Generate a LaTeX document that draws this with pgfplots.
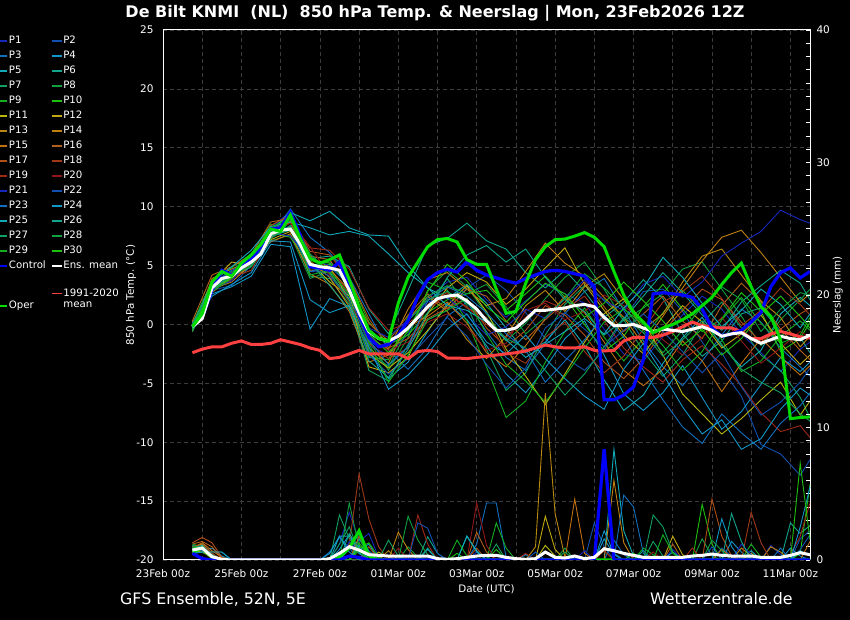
\documentclass[border=0pt]{standalone}
\usepackage{fontspec}
\setmainfont{DejaVu Sans}
\usepackage{pgfplots}
\pgfplotsset{compat=1.18}
\definecolor{cp1}{RGB}{20,40,190}
\definecolor{cp2}{RGB}{16,80,176}
\definecolor{cp3}{RGB}{16,112,192}
\definecolor{cp4}{RGB}{16,150,200}
\definecolor{cp5}{RGB}{16,170,185}
\definecolor{cp6}{RGB}{16,165,140}
\definecolor{cp7}{RGB}{16,160,96}
\definecolor{cp8}{RGB}{16,160,64}
\definecolor{cp9}{RGB}{16,176,32}
\definecolor{cp10}{RGB}{32,192,16}
\definecolor{cp11}{RGB}{184,184,16}
\definecolor{cp12}{RGB}{192,168,16}
\definecolor{cp13}{RGB}{184,136,16}
\definecolor{cp14}{RGB}{192,128,16}
\definecolor{cp15}{RGB}{192,112,16}
\definecolor{cp16}{RGB}{176,96,24}
\definecolor{cp17}{RGB}{176,80,24}
\definecolor{cp18}{RGB}{160,56,24}
\definecolor{cp19}{RGB}{160,40,24}
\definecolor{cp20}{RGB}{144,24,24}
\colorlet{cp21}{cp1}\colorlet{cp22}{cp2}\colorlet{cp23}{cp3}\colorlet{cp24}{cp4}\colorlet{cp25}{cp5}
\colorlet{cp26}{cp6}\colorlet{cp27}{cp7}\colorlet{cp28}{cp8}\colorlet{cp29}{cp9}\colorlet{cp30}{cp10}
\definecolor{ctrl}{RGB}{0,0,255}
\definecolor{oper}{RGB}{0,220,0}
\definecolor{clim}{RGB}{255,64,64}
\definecolor{gridc}{RGB}{60,60,60}
\newcommand{\tickfont}{\fontsize{10.5}{12}\selectfont}
\newcommand{\legfont}{\fontsize{10.2}{11.5}\selectfont}
\newcommand{\labfont}{\fontsize{10.3}{12}\selectfont}
\pgfplotsset{mem/.style={line width=0.9pt,forget plot}, lg/.style={line width=1.5pt}}
\begin{document}
\begin{tikzpicture}
\path[use as bounding box, fill=black] (0,0) rectangle (850pt,620pt);
\begin{axis}[
  at={(163pt,60pt)}, anchor=south west, scale only axis,
  width=647pt, height=530pt,
  xmin=0, xmax=16.5, ymin=-20, ymax=25,
  xtick={0,...,16},
  xticklabels={23Feb 00z,,25Feb 00z,,27Feb 00z,,01Mar 00z,,03Mar 00z,,05Mar 00z,,07Mar 00z,,09Mar 00z,,11Mar 00z},
  ytick={-20,-15,...,25},
  major tick length=0pt,
  grid=major,
  grid style={gridc, line width=0.7pt, dash pattern=on 3.5pt off 3.5pt},
  axis line style={white, line width=1pt},
  /pgf/number format/assume math mode=true,
  tick label style={font=\tickfont, text=white},
  xticklabel style={yshift=-6pt},
  yticklabel style={xshift=-6pt},
  xlabel={Date (UTC)}, ylabel={850 hPa Temp. (°C)},
  xlabel style={font=\labfont, text=white, at={(axis description cs:0.5,-0.0547)}, anchor=center},
  ylabel style={font=\labfont, text=white, at={(axis description cs:-0.0495,0.5)}, anchor=center},
  legend image code/.code={\draw[#1] (0pt,0pt) -- (10pt,0pt);},
  legend style={at={(axis description cs:-0.2574,0.9906)}, anchor=north west,
    draw=none, fill=none, inner sep=0pt, outer sep=0pt, text=white, font=\legfont,
    row sep=3pt, nodes={inner xsep=1pt, inner ysep=0pt, text height=9pt, text depth=3pt},
    /tikz/every even column/.append style={column sep=4pt}},
  legend columns=2, legend cell align=left,
]
\addlegendimage{cp1,lg}\addlegendentry{P1}
\addlegendimage{cp2,lg}\addlegendentry{P2}
\addlegendimage{cp3,lg}\addlegendentry{P3}
\addlegendimage{cp4,lg}\addlegendentry{P4}
\addlegendimage{cp5,lg}\addlegendentry{P5}
\addlegendimage{cp6,lg}\addlegendentry{P6}
\addlegendimage{cp7,lg}\addlegendentry{P7}
\addlegendimage{cp8,lg}\addlegendentry{P8}
\addlegendimage{cp9,lg}\addlegendentry{P9}
\addlegendimage{cp10,lg}\addlegendentry{P10}
\addlegendimage{cp11,lg}\addlegendentry{P11}
\addlegendimage{cp12,lg}\addlegendentry{P12}
\addlegendimage{cp13,lg}\addlegendentry{P13}
\addlegendimage{cp14,lg}\addlegendentry{P14}
\addlegendimage{cp15,lg}\addlegendentry{P15}
\addlegendimage{cp16,lg}\addlegendentry{P16}
\addlegendimage{cp17,lg}\addlegendentry{P17}
\addlegendimage{cp18,lg}\addlegendentry{P18}
\addlegendimage{cp19,lg}\addlegendentry{P19}
\addlegendimage{cp20,lg}\addlegendentry{P20}
\addlegendimage{cp21,lg}\addlegendentry{P21}
\addlegendimage{cp22,lg}\addlegendentry{P22}
\addlegendimage{cp23,lg}\addlegendentry{P23}
\addlegendimage{cp24,lg}\addlegendentry{P24}
\addlegendimage{cp25,lg}\addlegendentry{P25}
\addlegendimage{cp26,lg}\addlegendentry{P26}
\addlegendimage{cp27,lg}\addlegendentry{P27}
\addlegendimage{cp28,lg}\addlegendentry{P28}
\addlegendimage{cp29,lg}\addlegendentry{P29}
\addlegendimage{cp30,lg}\addlegendentry{P30}
\addlegendimage{ctrl,lg}\addlegendentry{Control}
\addlegendimage{white,lg}\addlegendentry{Ens. mean}
\addlegendimage{legend image code/.code={\draw[oper,line width=1.5pt] (0pt,-25pt) -- (10pt,-25pt);}}\addlegendentry{\raisebox{-25pt}{Oper}}
\addlegendimage{legend image code/.code={\draw[clim,line width=1.5pt] (0pt,-12.5pt) -- (10pt,-12.5pt);}}\addlegendentry{\raisebox{-12.5pt}{\parbox[t]{60pt}{1991-2020\\mean}}}

\addplot[cp1,mem] coordinates {(0.75,-0.5)(1.25,3.5)(1.75,4.6)(2.25,5.8)(2.75,8.2)(3.25,9.6)(3.75,5.9)(4.25,4.2)(4.75,2.4)(5.25,-1.8)(5.75,-2.6)(6.25,-0.8)(6.75,2.2)(7.25,3.6)(7.75,4.0)(8.25,2.1)(8.75,0.6)(9.25,2.0)(9.75,3.4)(10.25,2.6)(10.75,1.8)(11.25,-0.4)(11.75,-2.5)(12.25,-3.1)(12.75,-1.0)(13.25,0.8)(13.75,2.4)(14.25,1.3)(14.75,-0.8)(15.25,-2.4)(15.75,-4.0)(16.25,-2.1)(16.5,-1.5)};
\addplot[cp2,mem] coordinates {(0.75,-0.3)(1.25,2.9)(1.75,3.3)(2.25,5.0)(2.75,7.9)(3.25,8.3)(3.75,4.5)(4.25,4.4)(4.75,2.1)(5.25,-2.7)(5.75,-3.5)(6.25,-1.9)(6.75,0.4)(7.25,1.2)(7.75,3.1)(8.25,4.2)(8.75,2.9)(9.25,1.0)(9.75,-1.2)(10.25,-2.8)(10.75,-3.9)(11.25,-2.2)(11.75,0.5)(12.25,2.8)(12.75,3.0)(13.25,1.1)(13.75,-1.5)(14.25,-3.8)(14.75,-6.1)(15.25,-10.2)(15.75,-11.0)(16.25,-12.8)(16.5,-11.5)};
\addplot[cp3,mem] coordinates {(0.75,-0.1)(1.25,3.0)(1.75,4.4)(2.25,5.5)(2.75,7.5)(3.25,9.8)(3.75,7.4)(4.25,6.1)(4.75,4.0)(5.25,0.9)(5.75,-2.2)(6.25,-3.8)(6.75,-2.0)(7.25,0.7)(7.75,1.9)(8.25,-0.6)(8.75,-2.8)(9.25,-3.9)(9.75,-1.6)(10.25,0.9)(10.75,2.8)(11.25,3.9)(11.75,1.2)(12.25,-1.4)(12.75,-3.6)(13.25,-5.2)(13.75,-3.1)(14.25,-0.9)(14.75,1.3)(15.25,0.2)(15.75,-2.0)(16.25,-3.6)(16.5,-4.4)};
\addplot[cp4,mem] coordinates {(0.75,-0.6)(1.25,2.6)(1.75,3.2)(2.25,4.1)(2.75,6.8)(3.25,6.6)(3.75,-0.4)(4.25,2.2)(4.75,1.5)(5.25,-2.3)(5.75,-4.6)(6.25,-3.2)(6.75,-0.6)(7.25,1.8)(7.75,0.4)(8.25,-1.8)(8.75,-4.2)(9.25,-5.8)(9.75,-3.7)(10.25,-1.2)(10.75,0.3)(11.25,-2.6)(11.75,-5.9)(12.25,-7.3)(12.75,-5.8)(13.25,-3.5)(13.75,-6.2)(14.25,-8.9)(14.75,-7.4)(15.25,-5.1)(15.75,-2.8)(16.25,-4.0)(16.5,-3.2)};
\addplot[cp5,mem] coordinates {(0.75,0.0)(1.25,3.4)(1.75,4.3)(2.25,5.9)(2.75,8.0)(3.25,9.5)(3.75,8.8)(4.25,9.6)(4.75,8.2)(5.25,7.6)(5.75,7.5)(6.25,5.0)(6.75,3.1)(7.25,2.2)(7.75,3.4)(8.25,1.8)(8.75,-0.3)(9.25,-2.4)(9.75,-1.5)(10.25,0.4)(10.75,-1.8)(11.25,-4.7)(11.75,-7.3)(12.25,-6.0)(12.75,-3.3)(13.25,-1.1)(13.75,0.6)(14.25,-1.8)(14.75,-3.6)(15.25,-2.2)(15.75,0.9)(16.25,2.3)(16.5,1.6)};
\addplot[cp6,mem] coordinates {(0.75,-0.4)(1.25,3.0)(1.75,3.9)(2.25,4.9)(2.75,7.4)(3.25,8.7)(3.75,5.6)(4.25,5.8)(4.75,4.9)(5.25,1.3)(5.75,-0.8)(6.25,2.9)(6.75,6.7)(7.25,7.3)(7.75,8.6)(8.25,7.1)(8.75,6.4)(9.25,4.4)(9.75,3.1)(10.25,4.6)(10.75,2.8)(11.25,0.6)(11.75,1.9)(12.25,3.8)(12.75,2.2)(13.25,-0.8)(13.75,-2.7)(14.25,-1.4)(14.75,0.9)(15.25,1.4)(15.75,-0.6)(16.25,-1.1)(16.5,-2.4)};
\addplot[cp7,mem] coordinates {(0.75,-0.2)(1.25,3.3)(1.75,4.0)(2.25,5.2)(2.75,7.9)(3.25,8.0)(3.75,4.1)(4.25,3.9)(4.75,1.7)(5.25,-3.9)(5.75,-4.8)(6.25,-1.7)(6.75,1.6)(7.25,3.9)(7.75,1.6)(8.25,-2.1)(8.75,-5.6)(9.25,-4.1)(9.75,-0.9)(10.25,1.7)(10.75,3.3)(11.25,2.1)(11.75,0.4)(12.25,-2.3)(12.75,-4.4)(13.25,-2.6)(13.75,0.1)(14.25,1.9)(14.75,-0.3)(15.25,-2.6)(15.75,-3.9)(16.25,-6.2)(16.5,-7.9)};
\addplot[cp8,mem] coordinates {(0.75,-0.5)(1.25,2.8)(1.75,4.2)(2.25,5.6)(2.75,7.1)(3.25,7.6)(3.75,3.9)(4.25,4.5)(4.75,2.6)(5.25,-1.4)(5.75,-3.9)(6.25,-1.1)(6.75,2.9)(7.25,4.6)(7.75,3.2)(8.25,0.9)(8.75,-1.4)(9.25,0.1)(9.75,2.2)(10.25,4.0)(10.75,5.3)(11.25,3.0)(11.75,0.3)(12.25,1.4)(12.75,2.6)(13.25,4.7)(13.75,5.3)(14.25,3.0)(14.75,0.7)(15.25,-1.8)(15.75,0.4)(16.25,2.1)(16.5,3.0)};
\addplot[cp9,mem] coordinates {(0.75,0.1)(1.25,3.7)(1.75,4.8)(2.25,6.0)(2.75,8.5)(3.25,8.0)(3.75,5.0)(4.25,4.3)(4.75,2.0)(5.25,-2.8)(5.75,-3.0)(6.25,0.7)(6.75,3.6)(7.25,2.9)(7.75,0.3)(8.25,-3.6)(8.75,-7.9)(9.25,-6.5)(9.75,-3.2)(10.25,-0.6)(10.75,1.4)(11.25,-1.1)(11.75,-3.1)(12.25,-1.2)(12.75,1.0)(13.25,2.9)(13.75,1.1)(14.25,-1.3)(14.75,-4.0)(15.25,-3.1)(15.75,-1.0)(16.25,0.3)(16.5,-0.5)};
\addplot[cp10,mem] coordinates {(0.75,-0.3)(1.25,3.1)(1.75,4.5)(2.25,5.3)(2.75,7.8)(3.25,7.4)(3.75,4.8)(4.25,5.1)(4.75,3.9)(5.25,0.2)(5.75,-1.7)(6.25,-0.9)(6.75,1.0)(7.25,2.1)(7.75,2.6)(8.25,2.9)(8.75,1.2)(9.25,2.6)(9.75,4.1)(10.25,2.3)(10.75,0.0)(11.25,-2.3)(11.75,-1.0)(12.25,1.5)(12.75,3.4)(13.25,1.3)(13.75,-0.6)(14.25,0.5)(14.75,2.7)(15.25,1.1)(15.75,-2.3)(16.25,-1.2)(16.5,0.2)};
\addplot[cp11,mem] coordinates {(0.75,-0.1)(1.25,3.2)(1.75,3.9)(2.25,5.0)(2.75,7.6)(3.25,8.3)(3.75,5.3)(4.25,3.6)(4.75,2.4)(5.25,-2.5)(5.75,-3.7)(6.25,-2.4)(6.75,-0.5)(7.25,1.6)(7.75,3.3)(8.25,1.1)(8.75,-2.1)(9.25,-4.4)(9.75,-6.8)(10.25,-4.2)(10.75,-1.5)(11.25,0.9)(11.75,2.2)(12.25,0.2)(12.75,-2.6)(13.25,-5.9)(13.75,-7.6)(14.25,-9.3)(14.75,-8.0)(15.25,-6.4)(15.75,-4.9)(16.25,-7.7)(16.5,-6.5)};
\addplot[cp12,mem] coordinates {(0.75,-0.4)(1.25,3.6)(1.75,5.3)(2.25,5.0)(2.75,7.2)(3.25,7.9)(3.75,5.7)(4.25,4.9)(4.75,2.1)(5.25,-3.6)(5.75,-4.1)(6.25,-2.8)(6.75,0.9)(7.25,3.1)(7.75,4.4)(8.25,3.6)(8.75,1.7)(9.25,3.0)(9.75,4.8)(10.25,6.5)(10.75,3.4)(11.25,1.2)(11.75,-0.9)(12.25,-2.5)(12.75,-0.3)(13.25,1.6)(13.75,0.2)(14.25,-2.0)(14.75,-0.8)(15.25,0.8)(15.75,-1.6)(16.25,-3.4)(16.5,-2.6)};
\addplot[cp13,mem] coordinates {(0.75,0.2)(1.25,2.7)(1.75,4.1)(2.25,5.7)(2.75,8.1)(3.25,8.6)(3.75,5.4)(4.25,4.0)(4.75,1.5)(5.25,-2.0)(5.75,-3.3)(6.25,0.4)(6.75,2.4)(7.25,1.1)(7.75,-1.3)(8.25,-2.9)(8.75,-1.0)(9.25,1.6)(9.75,2.9)(10.25,1.1)(10.75,3.2)(11.25,4.3)(11.75,2.1)(12.25,-0.4)(12.75,0.9)(13.25,3.6)(13.75,5.8)(14.25,6.4)(14.75,4.2)(15.25,2.0)(15.75,0.6)(16.25,-1.9)(16.5,-1.0)};
\addplot[cp14,mem] coordinates {(0.75,-0.2)(1.25,3.0)(1.75,3.6)(2.25,5.1)(2.75,7.3)(3.25,8.8)(3.75,4.6)(4.25,4.7)(4.75,2.9)(5.25,-1.1)(5.75,-2.1)(6.25,1.3)(6.75,3.8)(7.25,4.4)(7.75,3.0)(8.25,1.6)(8.75,2.2)(9.25,4.5)(9.75,6.9)(10.25,5.2)(10.75,4.1)(11.25,2.3)(11.75,0.6)(12.25,-1.7)(12.75,0.7)(13.25,3.1)(13.75,5.4)(14.25,7.4)(14.75,8.0)(15.25,6.1)(15.75,4.0)(16.25,1.9)(16.5,2.6)};
\addplot[cp15,mem] coordinates {(0.75,-0.6)(1.25,3.9)(1.75,4.7)(2.25,5.4)(2.75,7.0)(3.25,7.7)(3.75,4.3)(4.25,3.4)(4.75,1.1)(5.25,-3.2)(5.75,-2.6)(6.25,-0.2)(6.75,0.7)(7.25,1.9)(7.75,0.1)(8.25,-2.4)(8.75,-3.6)(9.25,-1.8)(9.75,0.5)(10.25,2.4)(10.75,1.0)(11.25,-1.5)(11.75,-3.9)(12.25,-5.2)(12.75,-3.8)(13.25,-1.4)(13.75,-3.1)(14.25,-5.7)(14.75,-3.3)(15.25,-1.2)(15.75,-2.8)(16.25,-4.3)(16.5,-3.5)};
\addplot[cp16,mem] coordinates {(0.75,0.3)(1.25,4.2)(1.75,4.9)(2.25,5.9)(2.75,8.7)(3.25,9.0)(3.75,5.8)(4.25,5.5)(4.75,3.0)(5.25,0.1)(5.75,-1.4)(6.25,0.8)(6.75,2.6)(7.25,1.3)(7.75,3.0)(8.25,2.4)(8.75,0.3)(9.25,-1.3)(9.75,0.4)(10.25,1.9)(10.75,3.6)(11.25,1.5)(11.75,-0.6)(12.25,0.9)(12.75,2.4)(13.25,0.3)(13.75,-1.2)(14.25,1.6)(14.75,3.5)(15.25,1.9)(15.75,-0.4)(16.25,-2.2)(16.5,-3.0)};
\addplot[cp17,mem] coordinates {(0.75,-0.1)(1.25,3.4)(1.75,4.4)(2.25,5.6)(2.75,8.4)(3.25,9.3)(3.75,6.2)(4.25,5.9)(4.75,3.9)(5.25,0.5)(5.75,-2.0)(6.25,-1.2)(6.75,0.5)(7.25,1.4)(7.75,2.2)(8.25,-0.3)(8.75,-1.9)(9.25,-0.5)(9.75,1.6)(10.25,0.8)(10.75,-0.9)(11.25,-3.2)(11.75,-4.6)(12.25,-2.9)(12.75,-0.6)(13.25,1.2)(13.75,3.0)(14.25,2.1)(14.75,0.2)(15.25,-1.5)(15.75,-0.4)(16.25,0.9)(16.5,1.4)};
\addplot[cp18,mem] coordinates {(0.75,-0.3)(1.25,3.1)(1.75,4.0)(2.25,4.6)(2.75,7.5)(3.25,8.2)(3.75,5.2)(4.25,4.6)(4.75,2.7)(5.25,-1.6)(5.75,-2.9)(6.25,-2.0)(6.75,1.7)(7.25,2.7)(7.75,1.4)(8.25,0.6)(8.75,-2.4)(9.25,-3.3)(9.75,-1.1)(10.25,0.2)(10.75,-2.3)(11.25,-4.1)(11.75,-2.7)(12.25,-0.4)(12.75,1.9)(13.25,2.8)(13.75,4.1)(14.25,2.2)(14.75,-0.1)(15.25,1.2)(15.75,3.1)(16.25,1.7)(16.5,0.8)};
\addplot[cp19,mem] coordinates {(0.75,0.0)(1.25,2.9)(1.75,3.8)(2.25,5.2)(2.75,7.9)(3.25,8.9)(3.75,6.5)(4.25,6.3)(4.75,4.7)(5.25,1.4)(5.75,-0.5)(6.25,0.1)(6.75,1.3)(7.25,2.5)(7.75,1.5)(8.25,0.0)(8.75,-1.1)(9.25,0.6)(9.75,2.0)(10.25,1.3)(10.75,2.4)(11.25,0.3)(11.75,-2.0)(12.25,-3.6)(12.75,-4.9)(13.25,-3.0)(13.75,-1.8)(14.25,-3.4)(14.75,-5.2)(15.25,-7.5)(15.75,-9.1)(16.25,-8.6)(16.5,-9.6)};
\addplot[cp20,mem] coordinates {(0.75,-0.2)(1.25,3.3)(1.75,4.3)(2.25,5.4)(2.75,8.0)(3.25,8.6)(3.75,6.6)(4.25,4.2)(4.75,1.9)(5.25,-1.0)(5.75,-2.2)(6.25,-1.5)(6.75,0.2)(7.25,0.9)(7.75,-0.2)(8.25,-2.2)(8.75,-1.6)(9.25,1.2)(9.75,1.8)(10.25,0.4)(10.75,1.1)(11.25,2.5)(11.75,1.6)(12.25,0.2)(12.75,-1.3)(13.25,-2.6)(13.75,-1.1)(14.25,0.6)(14.75,-1.4)(15.25,-3.3)(15.75,-2.0)(16.25,-0.6)(16.5,-1.1)};
\addplot[cp21,mem] coordinates {(0.75,-0.2)(1.25,3.0)(1.75,3.7)(2.25,5.6)(2.75,7.8)(3.25,7.5)(3.75,5.5)(4.25,5.0)(4.75,3.6)(5.25,-0.3)(5.75,-1.1)(6.25,0.4)(6.75,1.9)(7.25,2.3)(7.75,0.8)(8.25,-0.9)(8.75,-0.2)(9.25,1.3)(9.75,0.5)(10.25,2.2)(10.75,3.8)(11.25,2.0)(11.75,1.2)(12.25,3.4)(12.75,4.1)(13.25,2.3)(13.75,3.6)(14.25,5.8)(14.75,6.9)(15.25,7.9)(15.75,9.7)(16.25,8.9)(16.5,8.6)};
\addplot[cp22,mem] coordinates {(0.75,-0.4)(1.25,3.3)(1.75,4.6)(2.25,5.1)(2.75,7.6)(3.25,8.4)(3.75,4.9)(4.25,4.1)(4.75,2.2)(5.25,-2.6)(5.75,-4.2)(6.25,-2.9)(6.75,-1.1)(7.25,0.6)(7.75,-1.0)(8.25,-3.4)(8.75,-5.4)(9.25,-3.7)(9.75,-0.3)(10.25,1.0)(10.75,-0.4)(11.25,-1.9)(11.75,-0.5)(12.25,0.9)(12.75,-0.6)(13.25,-2.3)(13.75,-4.1)(14.25,-2.4)(14.75,-5.3)(15.25,-7.7)(15.75,-6.6)(16.25,-4.9)(16.5,-3.7)};
\addplot[cp23,mem] coordinates {(0.75,0.1)(1.25,3.0)(1.75,4.2)(2.25,5.5)(2.75,7.7)(3.25,8.2)(3.75,4.5)(4.25,4.9)(4.75,3.4)(5.25,-1.3)(5.75,-3.4)(6.25,-1.9)(6.75,2.0)(7.25,3.2)(7.75,2.4)(8.25,1.0)(8.75,-0.8)(9.25,-2.2)(9.75,-4.9)(10.25,-3.1)(10.75,-1.3)(11.25,0.8)(11.75,-1.1)(12.25,-3.9)(12.75,-6.4)(13.25,-8.7)(13.75,-10.1)(14.25,-7.6)(14.75,-9.2)(15.25,-10.6)(15.75,-8.4)(16.25,-6.9)(16.5,-5.8)};
\addplot[cp24,mem] coordinates {(0.75,-0.3)(1.25,2.4)(1.75,3.4)(2.25,4.4)(2.75,7.1)(3.25,7.0)(3.75,2.1)(4.25,1.0)(4.75,1.6)(5.25,-1.9)(5.75,-5.5)(6.25,-4.3)(6.75,-2.5)(7.25,-0.4)(7.75,0.9)(8.25,-1.5)(8.75,-2.5)(9.25,-0.9)(9.75,-2.9)(10.25,-4.6)(10.75,-6.1)(11.25,-7.2)(11.75,-3.8)(12.25,-1.6)(12.75,-4.2)(13.25,-7.0)(13.75,-9.3)(14.25,-8.1)(14.75,-10.6)(15.25,-9.7)(15.75,-7.2)(16.25,-5.4)(16.5,-6.0)};
\addplot[cp25,mem] coordinates {(0.75,-0.2)(1.25,3.6)(1.75,4.9)(2.25,6.3)(2.75,8.3)(3.25,8.7)(3.75,8.2)(4.25,7.6)(4.75,7.9)(5.25,7.5)(5.75,6.0)(6.25,4.4)(6.75,3.1)(7.25,1.6)(7.75,1.2)(8.25,0.2)(8.75,-1.3)(9.25,-2.8)(9.75,-1.7)(10.25,-0.6)(10.75,0.5)(11.25,-0.8)(11.75,1.4)(12.25,3.1)(12.75,5.7)(13.25,4.0)(13.75,1.8)(14.25,-0.2)(14.75,1.2)(15.25,3.0)(15.75,1.7)(16.25,-0.3)(16.5,0.9)};
\addplot[cp26,mem] coordinates {(0.75,-0.5)(1.25,2.9)(1.75,4.1)(2.25,5.2)(2.75,7.5)(3.25,8.0)(3.75,5.3)(4.25,3.3)(4.75,1.3)(5.25,-3.1)(5.75,-4.5)(6.25,-2.1)(6.75,1.0)(7.25,4.0)(7.75,5.9)(8.25,6.7)(8.75,5.3)(9.25,6.4)(9.75,4.0)(10.25,2.1)(10.75,1.1)(11.25,-0.9)(11.75,0.4)(12.25,2.4)(12.75,4.4)(13.25,2.7)(13.75,0.8)(14.25,-0.5)(14.75,1.9)(15.25,3.3)(15.75,4.6)(16.25,3.5)(16.5,2.1)};
\addplot[cp27,mem] coordinates {(0.75,0.0)(1.25,3.2)(1.75,4.3)(2.25,4.9)(2.75,7.3)(3.25,8.4)(3.75,5.0)(4.25,5.3)(4.75,3.7)(5.25,-0.4)(5.75,-1.8)(6.25,0.3)(6.75,2.1)(7.25,2.8)(7.75,1.8)(8.25,0.5)(8.75,-1.2)(9.25,-2.0)(9.75,-3.9)(10.25,-6.0)(10.75,-4.2)(11.25,-1.9)(11.75,0.6)(12.25,-0.7)(12.75,-2.7)(13.25,-1.3)(13.75,0.3)(14.25,-1.7)(14.75,-3.8)(15.25,-4.9)(15.75,-5.8)(16.25,-7.6)(16.5,-8.2)};
\addplot[cp28,mem] coordinates {(0.75,-0.6)(1.25,3.3)(1.75,4.1)(2.25,5.0)(2.75,7.9)(3.25,8.9)(3.75,6.0)(4.25,4.4)(4.75,2.0)(5.25,-2.2)(5.75,-3.6)(6.25,-0.4)(6.75,2.4)(7.25,3.3)(7.75,2.6)(8.25,3.4)(8.75,1.5)(9.25,-0.8)(9.75,0.6)(10.25,2.2)(10.75,4.3)(11.25,3.1)(11.75,1.4)(12.25,-0.5)(12.75,-2.4)(13.25,-0.5)(13.75,1.5)(14.25,3.2)(14.75,2.1)(15.25,-0.6)(15.75,1.3)(16.25,2.7)(16.5,2.5)};
\addplot[cp29,mem] coordinates {(0.75,-0.1)(1.25,2.8)(1.75,3.9)(2.25,5.8)(2.75,8.2)(3.25,9.1)(3.75,4.2)(4.25,4.6)(4.75,2.5)(5.25,-1.6)(5.75,-4.9)(6.25,-2.6)(6.75,0.4)(7.25,1.2)(7.75,2.2)(8.25,-0.8)(8.75,-3.4)(9.25,-4.8)(9.75,-6.6)(10.25,-4.4)(10.75,-2.0)(11.25,0.2)(11.75,1.3)(12.25,0.0)(12.75,-1.8)(13.25,-3.9)(13.75,-2.3)(14.25,0.4)(14.75,2.3)(15.25,0.1)(15.75,-1.6)(16.25,-0.9)(16.5,0.6)};
\addplot[cp30,mem] coordinates {(0.75,-0.4)(1.25,3.0)(1.75,4.0)(2.25,5.4)(2.75,7.6)(3.25,8.1)(3.75,5.5)(4.25,5.2)(4.75,3.4)(5.25,-0.8)(5.75,-2.4)(6.25,-0.6)(6.75,2.8)(7.25,5.1)(7.75,3.7)(8.25,1.5)(8.75,0.2)(9.25,1.9)(9.75,3.5)(10.25,2.6)(10.75,0.6)(11.25,1.8)(11.75,3.6)(12.25,2.0)(12.75,0.3)(13.25,-1.8)(13.75,-0.4)(14.25,-2.6)(14.75,-1.2)(15.25,0.9)(15.75,2.4)(16.25,0.7)(16.5,-0.3)};

\addplot[clim, line width=3pt, forget plot] coordinates {(0.75,-2.4)(1.0,-2.1)(1.25,-1.9)(1.5,-1.9)(1.75,-1.6)(2.0,-1.4)(2.25,-1.7)(2.5,-1.7)(2.75,-1.6)(3.0,-1.3)(3.25,-1.5)(3.5,-1.7)(3.75,-2.0)(4.0,-2.2)(4.25,-2.9)(4.5,-2.8)(4.75,-2.5)(5.0,-2.2)(5.25,-2.5)(5.5,-2.5)(5.75,-2.5)(6.0,-2.5)(6.25,-2.9)(6.5,-2.3)(6.75,-2.2)(7.0,-2.3)(7.25,-2.85)(7.5,-2.85)(7.75,-2.9)(8.0,-2.8)(8.25,-2.7)(8.5,-2.6)(8.75,-2.5)(9.0,-2.4)(9.25,-2.25)(9.5,-2.0)(9.75,-1.75)(10.0,-1.9)(10.25,-2.0)(10.5,-2.0)(10.75,-1.9)(11.0,-2.2)(11.25,-2.25)(11.5,-2.2)(11.75,-1.4)(12.0,-1.1)(12.25,-1.1)(12.5,-1.1)(12.75,-0.9)(13.0,-0.6)(13.25,-0.2)(13.5,0.2)(13.75,-0.1)(14.0,-0.2)(14.25,-0.3)(14.5,-0.3)(14.75,-0.6)(15.0,-1.2)(15.25,-1.2)(15.5,-0.8)(15.75,-0.6)(16.0,-0.8)(16.25,-1.05)(16.5,-1.15)};
\addplot[ctrl, line width=3.2pt, forget plot] coordinates {(0.75,-0.2)(1.0,0.6)(1.25,2.9)(1.5,4.6)(1.75,4.2)(2.0,5.1)(2.25,5.5)(2.5,6.6)(2.75,8.1)(3.0,8.2)(3.25,9.5)(3.5,7.6)(3.75,4.9)(4.0,4.8)(4.25,4.6)(4.5,5.3)(4.75,3.2)(5.0,0.8)(5.25,-1.1)(5.5,-1.9)(5.75,-1.7)(6.0,-0.9)(6.25,0.3)(6.5,2.4)(6.75,3.8)(7.0,4.4)(7.25,4.7)(7.5,4.45)(7.75,5.3)(8.0,4.6)(8.25,4.2)(8.5,3.95)(8.75,3.7)(9.0,3.5)(9.25,3.9)(9.5,4.2)(9.75,4.5)(10.0,4.6)(10.25,4.5)(10.5,4.3)(10.75,4.1)(11.0,3.2)(11.25,-6.4)(11.5,-6.4)(11.75,-6.0)(12.0,-5.3)(12.25,-3.0)(12.5,2.6)(12.75,2.7)(13.0,2.6)(13.25,2.5)(13.5,2.3)(13.75,1.3)(14.0,-0.3)(14.25,-1.0)(14.5,-0.8)(14.75,-0.5)(15.0,0.2)(15.25,1.0)(15.5,3.2)(15.75,4.4)(16.0,4.8)(16.25,3.95)(16.5,4.5)};
\addplot[white, line width=3pt, forget plot] coordinates {(0.75,-0.2)(1.0,0.5)(1.25,3.1)(1.5,3.9)(1.75,4.1)(2.0,4.8)(2.25,5.3)(2.5,6.0)(2.75,7.7)(3.0,8.0)(3.25,8.1)(3.5,6.8)(3.75,5.1)(4.0,4.9)(4.25,4.8)(4.5,4.6)(4.75,2.9)(5.0,1.0)(5.25,-0.6)(5.5,-1.2)(5.75,-1.4)(6.0,-1.0)(6.25,-0.3)(6.5,0.6)(6.75,1.5)(7.0,2.2)(7.25,2.4)(7.5,2.5)(7.75,2.0)(8.0,1.3)(8.25,0.3)(8.5,-0.5)(8.75,-0.5)(9.0,-0.3)(9.25,0.4)(9.5,1.2)(9.75,1.2)(10.0,1.3)(10.25,1.4)(10.5,1.6)(10.75,1.7)(11.0,1.5)(11.25,0.6)(11.5,-0.1)(11.75,-0.1)(12.0,0.0)(12.25,-0.3)(12.5,-0.6)(12.75,-0.4)(13.0,-0.5)(13.25,-0.6)(13.5,-0.4)(13.75,-0.2)(14.0,-0.5)(14.25,-1.0)(14.5,-0.8)(14.75,-0.7)(15.0,-1.2)(15.25,-1.6)(15.5,-1.3)(15.75,-1.0)(16.0,-1.2)(16.25,-1.3)(16.5,-0.9)};
\addplot[oper, line width=3pt, forget plot] coordinates {(0.75,-0.2)(1.0,0.9)(1.25,3.6)(1.5,4.5)(1.75,4.1)(2.0,5.2)(2.25,5.9)(2.5,6.8)(2.75,8.1)(3.0,7.9)(3.25,9.3)(3.5,7.3)(3.75,5.6)(4.0,5.2)(4.25,5.5)(4.5,5.9)(4.75,3.8)(5.0,1.5)(5.25,-0.5)(5.5,-1.2)(5.75,-1.4)(6.0,1.8)(6.25,4.0)(6.5,5.3)(6.75,6.6)(7.0,7.2)(7.25,7.3)(7.5,7.0)(7.75,5.5)(8.0,5.1)(8.25,5.1)(8.5,3.0)(8.75,0.95)(9.0,1.1)(9.25,3.5)(9.5,5.5)(9.75,6.6)(10.0,7.2)(10.25,7.25)(10.5,7.5)(10.75,7.8)(11.0,7.4)(11.25,6.6)(11.5,4.5)(11.75,2.5)(12.0,1.0)(12.25,0.2)(12.5,-0.7)(12.75,-0.3)(13.0,0.0)(13.25,0.4)(13.5,0.9)(13.75,1.6)(14.0,2.3)(14.25,3.4)(14.5,4.4)(14.75,5.2)(15.0,3.2)(15.25,1.5)(15.5,0.7)(15.75,-1.3)(16.0,-8.0)(16.25,-7.9)(16.5,-7.85)};
\end{axis}

\begin{axis}[
  at={(163pt,60pt)}, anchor=south west, scale only axis,
  width=647pt, height=530pt,
  xmin=0, xmax=16.5, ymin=0, ymax=40,
  axis x line=none, axis y line*=right,
  axis line style={white, line width=1pt, -},
  ytick={0,10,20,30,40}, minor ytick={1,...,39},
  tick align=inside, major tick length=4pt, minor tick length=4pt,
  every tick/.style={white, line width=0.8pt},
  /pgf/number format/assume math mode=true,
  tick label style={font=\tickfont, text=white},
  yticklabel style={xshift=3pt},
  ylabel={Neerslag (mm)},
  ylabel style={font=\labfont, text=white, at={(axis description cs:1.043,0.5)}, anchor=center},
]
\addplot[cp1,mem] coordinates {(0.75,0.9)(1.0,1.2)(1.25,0.5)(1.5,0)(4.25,0)(4.5,1.2)(4.75,3.6)(5.0,1.4)(5.25,2.0)(5.5,0.2)(5.75,0)(7.75,0)(8.0,0.6)(8.25,0.2)(8.5,0)(12.75,0)(13.0,0.8)(13.25,0)(15.25,0)(15.5,1.1)(15.75,0.4)(16.0,0)(16.5,0)};
\addplot[cp2,mem] coordinates {(0.75,0.6)(1.0,0.8)(1.25,0.2)(1.5,0)(4.5,0)(4.75,1.1)(5.0,0.5)(5.25,0)(10.75,0)(11.0,2.8)(11.25,1.0)(11.5,0)(14.0,0)(14.25,0.9)(14.5,0.3)(14.75,0)(16.0,0)(16.25,1.6)(16.5,2.2)};
\addplot[cp3,mem] coordinates {(0.75,0.7)(1.0,0.9)(1.25,0.3)(1.5,0)(4.0,0)(4.25,0.6)(4.5,1.7)(4.75,0.9)(5.0,0)(7.75,0)(8.0,1.2)(8.25,4.3)(8.5,4.3)(8.75,0.2)(9.0,0)(11.25,0)(11.5,1.5)(11.75,0.4)(12.0,0)(16.5,0)};
\addplot[cp4,mem] coordinates {(0.75,1.0)(1.0,0.7)(1.25,0.9)(1.5,0.3)(1.75,0)(4.25,0)(4.5,0.8)(4.75,1.9)(5.0,0.7)(5.25,1.2)(5.5,0)(9.0,0)(9.25,0.4)(9.5,0)(11.0,0)(11.25,1.6)(11.5,0.4)(11.75,0)(14.25,0)(14.5,1.4)(14.75,0.6)(15.0,0)(15.75,0)(16.0,0.9)(16.25,0.3)(16.5,0)};
\addplot[cp5,mem] coordinates {(0.75,0.5)(1.0,0.6)(1.25,0.2)(1.5,0)(4.25,0)(4.5,1.8)(4.75,1.8)(5.0,0.5)(5.25,0)(7.5,0)(7.75,1.8)(8.0,0.6)(8.25,0)(11.25,0)(11.5,8.35)(11.75,2.2)(12.0,0.3)(12.25,0)(14.75,0)(15.0,0.7)(15.25,0)(16.5,0)};
\addplot[cp6,mem] coordinates {(0.75,1.1)(1.0,0.9)(1.25,0.6)(1.5,0.6)(1.75,0)(4.75,0)(5.0,1.6)(5.25,0.4)(5.5,0)(6.5,0)(6.75,1.75)(7.0,0.5)(7.25,0)(12.0,0)(12.25,0.7)(12.5,0)(15.75,0)(16.0,2.8)(16.25,2.0)(16.5,2.6)};
\addplot[cp7,mem] coordinates {(0.75,0.8)(1.0,1.1)(1.25,0.3)(1.5,0)(4.25,0)(4.5,3.4)(4.75,1.6)(5.0,0.8)(5.25,0)(8.25,0)(8.5,1.2)(8.75,0)(12.25,0)(12.5,1.4)(12.75,0.3)(13.0,0)(16.5,0)};
\addplot[cp8,mem] coordinates {(0.75,1.2)(1.0,1.0)(1.25,0.4)(1.5,0)(4.5,0)(4.75,4.3)(5.0,1.0)(5.25,0.6)(5.5,0)(6.0,0)(6.25,1.0)(6.5,0.2)(6.75,0)(10.0,0)(10.25,0.9)(10.5,0)(13.5,0)(13.75,1.6)(14.0,0.3)(14.25,0)(16.5,0)};
\addplot[cp9,mem] coordinates {(0.75,0.9)(1.0,0.8)(1.25,0.3)(1.5,0)(5.0,0)(5.25,0.5)(5.5,0)(8.25,0)(8.5,2.8)(8.75,0.9)(9.0,0)(12.0,0)(12.25,0.9)(12.5,0.4)(12.75,0)(14.75,0)(15.0,1.2)(15.25,0.2)(15.5,0)(16.5,0)};
\addplot[cp10,mem] coordinates {(0.75,0.7)(1.0,0.6)(1.25,0.2)(1.5,0)(4.75,0)(5.0,1.3)(5.25,0.3)(5.5,0)(7.25,0)(7.5,0.5)(7.75,0)(13.5,0)(13.75,4.2)(14.0,1.2)(14.25,0)(16.0,0)(16.25,0.5)(16.5,5.7)};
\addplot[cp11,mem] coordinates {(0.75,0.6)(1.0,0.7)(1.25,0.1)(1.5,0)(5.25,0)(5.5,0.6)(5.75,0.2)(6.0,0)(9.5,0)(9.75,1.1)(10.0,0.3)(10.25,0)(14.75,0)(15.0,0.5)(15.25,0)(16.5,0)};
\addplot[cp12,mem] coordinates {(0.75,0.8)(1.0,0.9)(1.25,0.3)(1.5,0)(4.75,0)(5.0,0.9)(5.25,0)(9.5,0)(9.75,3.3)(10.0,0.8)(10.25,0)(12.75,0)(13.0,1.8)(13.25,0.4)(13.5,0)(16.5,0)};
\addplot[cp13,mem] coordinates {(0.75,1.0)(1.0,1.2)(1.25,0.5)(1.5,0)(5.5,0)(5.75,0.7)(6.0,0)(9.25,0)(9.5,1.0)(9.75,12.6)(10.0,3.5)(10.25,0.2)(10.5,0)(14.5,0)(14.75,0.9)(15.0,0.3)(15.25,0)(16.5,0)};
\addplot[cp14,mem] coordinates {(0.75,0.6)(1.0,0.8)(1.25,0.4)(1.5,0)(5.75,0)(6.0,2.1)(6.25,0.8)(6.5,0)(11.25,0)(11.5,6.0)(11.75,1.3)(12.0,0)(15.25,0)(15.5,1.0)(15.75,0.6)(16.0,0)(16.5,0)};
\addplot[cp15,mem] coordinates {(0.75,0.9)(1.0,1.3)(1.25,0.7)(1.5,0.2)(1.75,0)(5.0,0)(5.25,0.6)(5.5,0)(10.25,0)(10.5,4.6)(10.75,0.5)(11.0,0)(14.0,0)(14.25,0.8)(14.5,0.2)(14.75,0)(16.25,0)(16.5,1.4)};
\addplot[cp16,mem] coordinates {(0.75,1.2)(1.0,1.4)(1.25,1.0)(1.5,0.1)(1.75,0)(4.75,0)(5.0,1.8)(5.25,0.4)(5.5,0)(7.75,0)(8.0,2.1)(8.25,0.6)(8.5,0)(12.75,0)(13.0,1.2)(13.25,0)(16.5,0)};
\addplot[cp17,mem] coordinates {(0.75,1.3)(1.0,1.7)(1.25,1.3)(1.5,0.2)(1.75,0)(5.0,0)(5.25,1.0)(5.5,0)(7.75,0)(8.0,0.9)(8.25,0)(13.75,0)(14.0,4.6)(14.25,1.8)(14.5,0.3)(14.75,0)(16.5,0)};
\addplot[cp18,mem] coordinates {(0.75,1.0)(1.0,1.1)(1.25,0.5)(1.5,0)(4.5,0)(4.75,1.2)(5.0,6.5)(5.25,3.1)(5.5,1.0)(5.75,0)(11.0,0)(11.25,0.7)(11.5,0)(14.75,0)(15.0,3.6)(15.25,1.3)(15.5,0)(16.5,0)};
\addplot[cp19,mem] coordinates {(0.75,0.7)(1.0,0.9)(1.25,0.3)(1.5,0)(6.25,0)(6.5,3.4)(6.75,1.2)(7.0,0)(9.0,0)(9.25,0.5)(9.5,0)(13.25,0)(13.5,0.9)(13.75,0)(15.75,0)(16.0,0.4)(16.25,1.8)(16.5,4.3)};
\addplot[cp20,mem] coordinates {(0.75,0.8)(1.0,1.0)(1.25,0.4)(1.5,0)(5.75,0)(6.0,0.9)(6.25,0)(7.75,0)(8.0,4.3)(8.25,1.1)(8.5,0)(12.25,0)(12.5,0.6)(12.75,0)(16.5,0)};
\addplot[cp21,mem] coordinates {(0.75,0.7)(1.0,0.8)(1.25,0.2)(1.5,0)(4.5,0)(4.75,1.4)(5.0,0.6)(5.25,0)(10.5,0)(10.75,0.7)(11.0,0)(14.5,0)(14.75,1.2)(15.0,0.4)(15.25,0)(16.5,0)};
\addplot[cp22,mem] coordinates {(0.75,0.9)(1.0,0.7)(1.25,0.3)(1.5,0)(6.25,0)(6.5,2.8)(6.75,2.4)(7.0,0.5)(7.25,0)(9.25,0)(9.5,0.6)(9.75,0)(13.75,0)(14.0,1.0)(14.25,0)(16.0,0)(16.25,0.8)(16.5,1.9)};
\addplot[cp23,mem] coordinates {(0.75,0.6)(1.0,0.9)(1.25,0.2)(1.5,0)(4.5,0)(4.75,0.8)(5.0,2.0)(5.25,0.7)(5.5,0)(11.5,0)(11.75,4.9)(12.0,4.0)(12.25,0.5)(12.5,0)(15.5,0)(15.75,0.9)(16.0,0)(16.5,0)};
\addplot[cp24,mem] coordinates {(0.75,0.5)(1.0,0.6)(1.25,0.6)(1.5,0.6)(1.75,0)(4.0,0)(4.25,0.5)(4.5,1.8)(4.75,0.6)(5.0,0)(6.5,0)(6.75,0.8)(7.0,0)(11.0,0)(11.25,2.2)(11.5,0.5)(11.75,0)(14.0,0)(14.25,3.1)(14.5,1.0)(14.75,0)(16.0,0)(16.25,2.5)(16.5,5.5)};
\addplot[cp25,mem] coordinates {(0.75,0.9)(1.0,1.1)(1.25,0.3)(1.5,0)(4.75,0)(5.0,1.1)(5.25,0)(7.5,0)(7.75,1.8)(8.0,0.7)(8.25,0)(12.75,0)(13.0,0.6)(13.25,0)(16.0,0)(16.25,0.7)(16.5,0.3)};
\addplot[cp26,mem] coordinates {(0.75,0.7)(1.0,1.0)(1.25,0.4)(1.5,0)(4.5,0)(4.75,2.0)(5.0,0.9)(5.25,0)(6.5,0)(6.75,0.9)(7.0,0)(14.25,0)(14.5,3.5)(14.75,1.4)(15.0,0)(16.5,0)};
\addplot[cp27,mem] coordinates {(0.75,1.1)(1.0,0.9)(1.25,0.4)(1.5,0)(4.25,0)(4.5,1.2)(4.75,2.5)(5.0,0.6)(5.25,0)(5.5,0)(5.75,1.5)(6.0,0.3)(6.25,0)(12.25,0)(12.5,3.4)(12.75,2.5)(13.0,0.6)(13.25,0)(16.5,0)};
\addplot[cp28,mem] coordinates {(0.75,1.0)(1.0,0.8)(1.25,0.3)(1.5,0)(6.0,0)(6.25,3.3)(6.5,1.5)(6.75,0.4)(7.0,0)(10.0,0)(10.25,0.6)(10.5,0)(13.75,0)(14.0,1.5)(14.25,0.7)(14.5,0)(16.5,0)};
\addplot[cp29,mem] coordinates {(0.75,0.8)(1.0,0.9)(1.25,0.2)(1.5,0)(4.75,0)(5.0,0.7)(5.25,0)(7.25,0)(7.5,1.5)(7.75,0.3)(8.0,0)(12.5,0)(12.75,1.9)(13.0,0.5)(13.25,0)(16.5,0)};
\addplot[cp30,mem] coordinates {(0.75,0.9)(1.0,1.0)(1.25,0.3)(1.5,0)(4.75,0)(5.0,0.9)(5.25,1.3)(5.5,0.2)(5.75,0)(8.25,0)(8.5,0.8)(8.75,0)(11.75,0)(12.0,0.5)(12.25,0)(16.0,0)(16.25,7.3)(16.5,1.5)};
\addplot[oper, line width=3pt] coordinates {(0.75,0.6)(1.0,0.9)(1.25,0.2)(1.5,0)(4.25,0)(4.5,0.2)(4.75,0.9)(5.0,2.2)(5.25,0.3)(5.5,0)(16.5,0)};
\addplot[ctrl, line width=3.2pt] coordinates {(0.75,0.5)(1.0,0.1)(1.25,0)(4.5,0)(4.75,0.3)(5.0,0.2)(5.25,0)(11.0,0)(11.25,8.35)(11.5,0)(16.5,0)};
\addplot[white, line width=3pt] coordinates {(0.75,0.75)(1.0,0.9)(1.25,0.25)(1.5,0.05)(1.75,0)(4.0,0)(4.25,0.1)(4.5,0.5)(4.75,1.0)(5.0,0.75)(5.25,0.4)(5.5,0.35)(5.75,0.3)(6.0,0.3)(6.25,0.3)(6.5,0.3)(6.75,0.3)(7.0,0.1)(7.25,0.05)(7.5,0.1)(7.75,0.2)(8.0,0.3)(8.25,0.35)(8.5,0.35)(8.75,0.2)(9.0,0.1)(9.25,0.05)(9.5,0.1)(9.75,0.6)(10.0,0.2)(10.25,0.15)(10.5,0.3)(10.75,0.1)(11.0,0.2)(11.25,0.85)(11.5,0.7)(11.75,0.5)(12.0,0.35)(12.25,0.2)(12.5,0.2)(12.75,0.2)(13.0,0.2)(13.25,0.2)(13.5,0.3)(13.75,0.35)(14.0,0.45)(14.25,0.35)(14.5,0.3)(14.75,0.3)(15.0,0.3)(15.25,0.2)(15.5,0.2)(15.75,0.2)(16.0,0.35)(16.25,0.55)(16.5,0.4)};
\end{axis}

\node[text=white, font=\fontsize{16}{19}\bfseries\selectfont, anchor=base, inner sep=0pt] at (435pt,602pt) {De Bilt KNMI\ \ (NL)\ \ 850 hPa Temp. \& Neerslag | Mon, 23Feb2026 12Z};
\node[text=white, font=\fontsize{15.8}{18}\selectfont, anchor=base west, inner sep=0pt] at (120pt,15pt) {GFS Ensemble, 52N, 5E};
\node[text=white, font=\fontsize{15.8}{18}\selectfont, anchor=base west, inner sep=0pt] at (650pt,15pt) {Wetterzentrale.de};
\end{tikzpicture}
\end{document}
